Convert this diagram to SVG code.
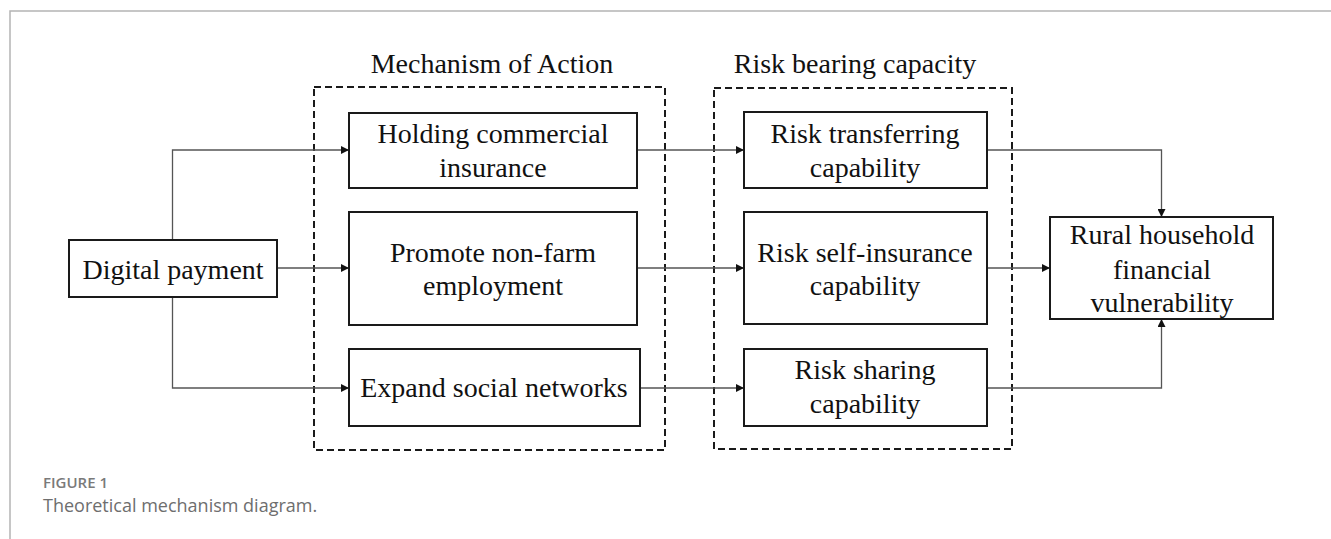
<svg xmlns="http://www.w3.org/2000/svg" width="1331" height="539" viewBox="0 0 1331 539">
  <style>
    .frame { fill: none; stroke: #b4b4b4; stroke-width: 1.5; }
    .box { fill: #ffffff; stroke: #1a1a1a; stroke-width: 2; }
    .group { fill: none; stroke: #1a1a1a; stroke-width: 2; stroke-dasharray: 7 4; }
    .lbl { font-family: "Liberation Serif", "Times New Roman", serif; font-size: 28px; fill: #111; text-anchor: middle; }
    .conn { fill: none; stroke: #555; stroke-width: 1.3; marker-end: url(#arrow); }
    .cap-title { font-family: "Open Sans", "Noto Sans", sans-serif; font-size: 15px; font-weight: 600; fill: #7a7a7a; }
    .cap-text { font-family: "Open Sans", "Noto Sans", sans-serif; font-size: 18px; fill: #6e6e6e; }
  </style>
  <defs>
    <marker id="arrow" viewBox="0 0 10 10" refX="10" refY="5" markerWidth="10" markerHeight="8" markerUnits="userSpaceOnUse" orient="auto">
      <path d="M0,0 L10,5 L0,10 Z" fill="#111"/>
    </marker>
  </defs>

  <rect width="1331" height="539" fill="#ffffff"/>
  <!-- page frame -->
  <path class="frame" d="M10,539 V11 H1331"/>

  <!-- dashed groupings -->
  <g id="group-mechanism">
    <rect class="group" x="314" y="87" width="351" height="363"/>
    <text class="lbl" x="492" y="73">Mechanism of Action</text>
  </g>
  <g id="group-risk">
    <rect class="group" x="714" y="88" width="298" height="361"/>
    <text class="lbl" x="855" y="73">Risk bearing capacity</text>
  </g>

  <!-- connectors -->
  <g id="connectors">
    <path class="conn" d="M172.5,240 V150 H349"/>
    <path class="conn" d="M277,268 H349"/>
    <path class="conn" d="M172.5,297 V388 H349"/>
    <path class="conn" d="M637,150 H744"/>
    <path class="conn" d="M637,268 H744"/>
    <path class="conn" d="M640,388 H744"/>
    <path class="conn" d="M987,150 H1161.5 V217"/>
    <path class="conn" d="M987,268 H1050"/>
    <path class="conn" d="M987,388 H1161.5 V319"/>
  </g>

  <g id="digital-payment">
    <rect class="box" x="69" y="240" width="208" height="57"/>
    <text class="lbl" x="173" y="279">Digital payment</text>
  </g>

  <g id="holding-insurance">
    <rect class="box" x="349" y="113" width="288" height="75"/>
    <text class="lbl" x="493" y="143">Holding commercial</text>
    <text class="lbl" x="493" y="177">insurance</text>
  </g>

  <g id="non-farm-employment">
    <rect class="box" x="349" y="212" width="288" height="113"/>
    <text class="lbl" x="493" y="262">Promote non-farm</text>
    <text class="lbl" x="493" y="295">employment</text>
  </g>

  <g id="social-networks">
    <rect class="box" x="349" y="349" width="291" height="77"/>
    <text class="lbl" x="494" y="397">Expand social networks</text>
  </g>

  <g id="risk-transferring">
    <rect class="box" x="744" y="112" width="243" height="76"/>
    <text class="lbl" x="865" y="143">Risk transferring</text>
    <text class="lbl" x="865" y="177">capability</text>
  </g>

  <g id="risk-self-insurance">
    <rect class="box" x="744" y="212" width="243" height="112"/>
    <text class="lbl" x="865" y="262">Risk self-insurance</text>
    <text class="lbl" x="865" y="295">capability</text>
  </g>

  <g id="risk-sharing">
    <rect class="box" x="744" y="349" width="243" height="77"/>
    <text class="lbl" x="865" y="379">Risk sharing</text>
    <text class="lbl" x="865" y="413">capability</text>
  </g>

  <g id="financial-vulnerability">
    <rect class="box" x="1050" y="217" width="223" height="102"/>
    <text class="lbl" x="1162" y="244">Rural household</text>
    <text class="lbl" x="1162" y="279">financial</text>
    <text class="lbl" x="1162" y="312">vulnerability</text>
  </g>

  <!-- caption -->
  <text class="cap-title" x="43" y="488">FIGURE 1</text>
  <text class="cap-text" x="43" y="512">Theoretical mechanism diagram.</text>
</svg>
